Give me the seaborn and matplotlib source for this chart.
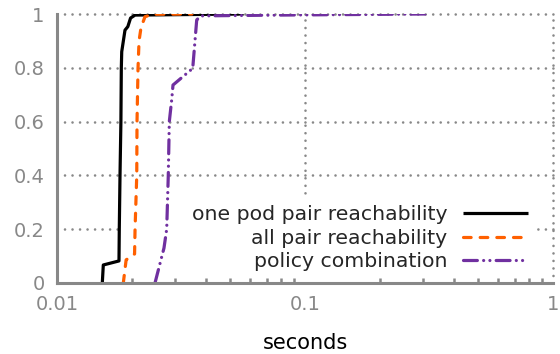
import numpy as np
import pandas as pd
import seaborn as sns
import matplotlib
matplotlib.use("Agg")
import matplotlib.pyplot as plt
from matplotlib.patches import Rectangle
from matplotlib.ticker import FixedLocator, FixedFormatter, NullFormatter, NullLocator

# CDF of verification time per query type
one_pod_x = [0.01523, 0.01537, 0.01778, 0.01783, 0.01795, 0.01810, 0.01817, 0.01824,
             0.01880, 0.01930, 0.01980, 0.02064, 0.0566]
one_pod_y = [0.0, 0.067, 0.082, 0.20, 0.40, 0.60, 0.80, 0.86,
             0.94, 0.953, 0.985, 0.996, 1.0]

all_pair_x = [0.01851, 0.01900, 0.02055, 0.02064, 0.02097, 0.02102, 0.02122, 0.02142,
              0.02182, 0.02264, 0.02438, 0.0350]
all_pair_y = [0.0, 0.086, 0.108, 0.20, 0.40, 0.60, 0.80, 0.90,
              0.95, 0.99, 0.999, 1.0]

policy_x = [0.02484, 0.02700, 0.02769, 0.02810, 0.02837, 0.02900, 0.02936, 0.03526,
            0.03659, 0.03800, 0.0800, 0.3047]
policy_y = [0.0, 0.13, 0.20, 0.40, 0.60, 0.68, 0.736, 0.798,
            0.978, 0.993, 0.996, 1.0]

series_names = ["one pod pair reachability", "all pair reachability", "policy combination"]
series_colors = ["#000000", "#ff6000", "#7030a0"]

x_ticks = [0.01, 0.1, 1]
x_tick_labels = ["0.01", "0.1", "1"]
x_minor_ticks = [m * d for d in (0.01, 0.1) for m in range(2, 10)]
y_ticks = [0, 0.2, 0.4, 0.6, 0.8, 1]
y_tick_labels = ["0", "0.2", "0.4", "0.6", "0.8", "1"]

sns.set_style("white")
plt.rcParams["font.family"] = ["DejaVu Sans"]
plt.rcParams["lines.scale_dashes"] = False

gray = "#888888"
pos = [57 / 560, 71 / 354, 496 / 560, 269 / 354]

fig = plt.figure(figsize=(5.6, 3.54), dpi=100)

# background axes: dotted grid and the opaque key area
ax_bg = fig.add_axes(pos)
ax_bg.set_xscale("log")
ax_bg.set_xlim(0.01, 1)
ax_bg.set_ylim(0, 1)
ax_bg.xaxis.set_major_locator(FixedLocator(x_ticks))
ax_bg.xaxis.set_minor_locator(NullLocator())
ax_bg.yaxis.set_major_locator(FixedLocator(y_ticks))
ax_bg.tick_params(which="both", length=0, labelbottom=False, labelleft=False)
for s in ax_bg.spines.values():
    s.set_visible(False)
ax_bg.grid(True, which="major", color=gray, linewidth=1.9,
           linestyle=(0, (0.01, 5.4)), dash_capstyle="round")
for gl in ax_bg.get_xgridlines() + ax_bg.get_ygridlines():
    gl.set_dash_capstyle("round")
    gl.set_clip_on(False)
ax_bg.add_patch(Rectangle((0.125, 0.0), 0.968 - 0.125, 0.323, transform=ax_bg.transAxes,
                          facecolor="white", edgecolor="none", zorder=3))

# foreground axes: curves, ticks, spines, labels, key
ax = fig.add_axes(pos)
ax.patch.set_visible(False)

frames = []
for name, xs, ys in zip(series_names, [one_pod_x, all_pair_x, policy_x],
                        [one_pod_y, all_pair_y, policy_y]):
    frames.append(pd.DataFrame({"seconds": xs, "cdf": ys, "query": name}))
df = pd.concat(frames, ignore_index=True)

line_styles = {
    series_names[0]: "-",
    series_names[1]: (0, (5.5, 6.5)),
    series_names[2]: (0, (10, 4.5, 0.01, 4.5, 0.01, 4.5)),
}

for name, color in zip(series_names, series_colors):
    sub = df[df["query"] == name]
    sns.lineplot(data=sub, x="seconds", y="cdf", ax=ax, color=color,
                 linewidth=2.3, linestyle=line_styles[name], label=name,
                 estimator=None, sort=False, zorder=3,
                 dash_capstyle="round", solid_capstyle="butt")

ax.set_xscale("log")
ax.set_xlim(0.01, 1)
ax.set_ylim(0, 1)

ax.xaxis.set_major_locator(FixedLocator(x_ticks))
ax.xaxis.set_major_formatter(FixedFormatter(x_tick_labels))
ax.xaxis.set_minor_locator(FixedLocator(x_minor_ticks))
ax.xaxis.set_minor_formatter(NullFormatter())
ax.yaxis.set_major_locator(FixedLocator(y_ticks))
ax.yaxis.set_major_formatter(FixedFormatter(y_tick_labels))

ax.tick_params(axis="both", which="major", direction="in", length=6, width=2,
               color=gray, labelcolor=gray, labelsize=14, pad=9)
ax.tick_params(axis="x", which="minor", direction="in", length=3.5, width=1.8,
               color=gray, bottom=True)
ax.tick_params(top=False, right=False, which="both")
ax.grid(False)

for side in ["top", "right"]:
    ax.spines[side].set_visible(False)
for side in ["left", "bottom"]:
    ax.spines[side].set_color(gray)
    ax.spines[side].set_linewidth(2.2)
    ax.spines[side].set_zorder(4)

ax.set_xlabel("seconds", fontsize=15, color="black", labelpad=13)
ax.set_ylabel("")

leg = ax.legend(loc="lower right", bbox_to_anchor=(0.9496, 0.044), frameon=False,
                markerfirst=False, fontsize=14.7, handlelength=3.2,
                handletextpad=0.75, labelspacing=0.22, borderpad=0, borderaxespad=0)
for t in leg.get_texts():
    t.set_ha("right")

fig.savefig("out.png", dpi=100)
